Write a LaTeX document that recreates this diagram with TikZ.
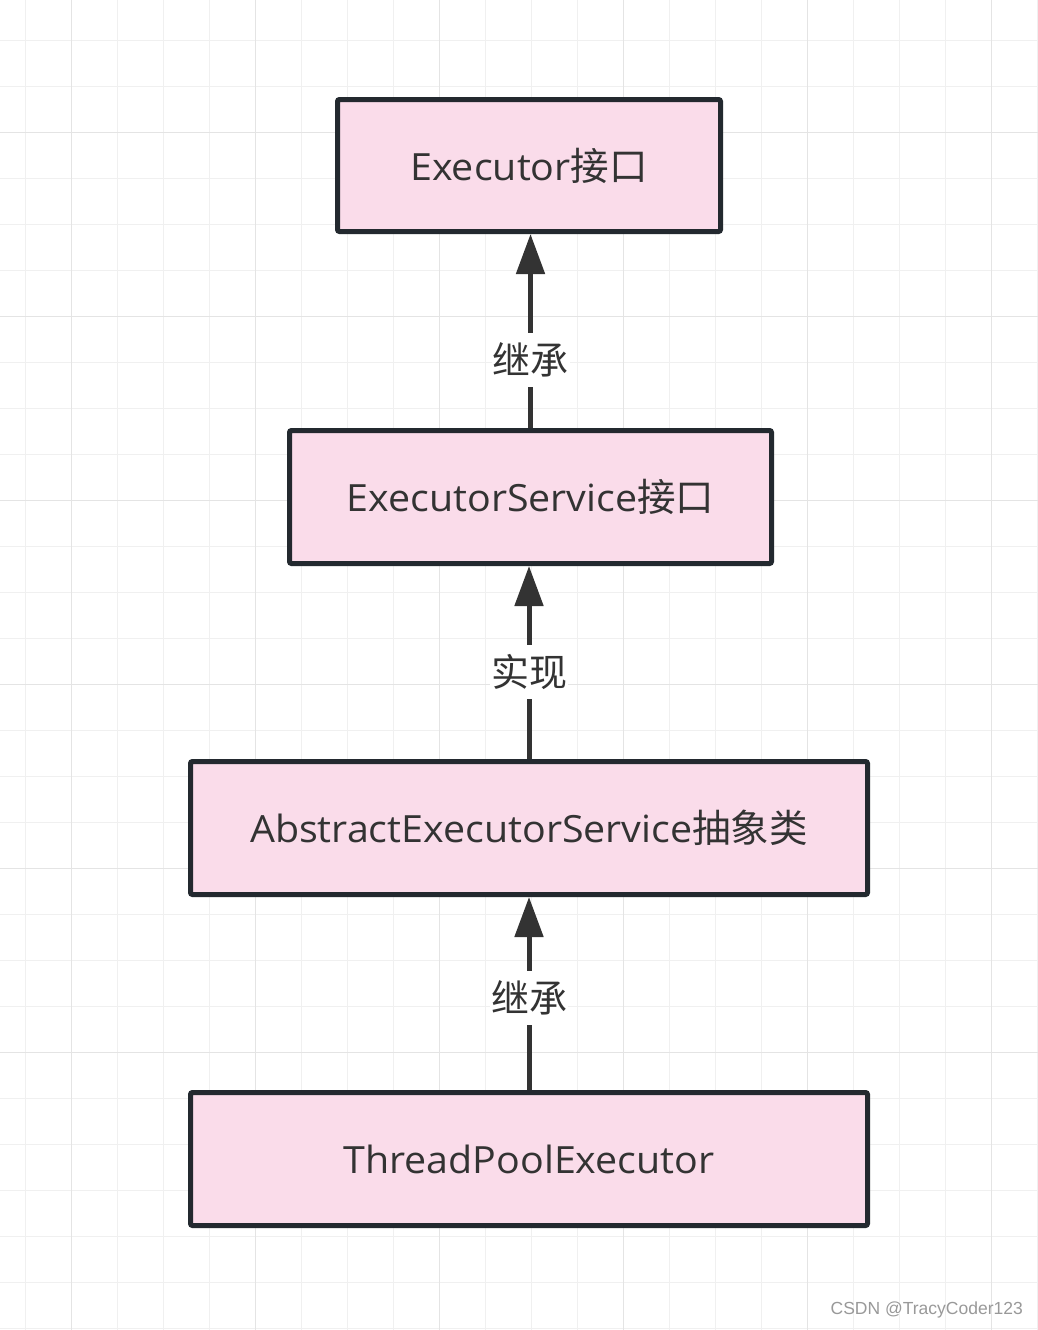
\documentclass[tikz,border=0pt]{standalone}
\usepackage{fontspec}
\setmainfont{Open Sans}
\newfontfamily\cjk{Noto Sans CJK SC}
\newfontfamily\lat[FakeStretch=1.05]{Open Sans}
\newfontfamily\wm{Liberation Sans}
\usetikzlibrary{arrows.meta}
\definecolor{boxfill}{HTML}{FADCEA}
\definecolor{boxdraw}{HTML}{23292F}
\definecolor{txt}{HTML}{333333}
\definecolor{gridminor}{HTML}{F0F0F0}
\definecolor{gridmajor}{HTML}{E4E4E4}
\newcommand{\cjkbig}[1]{{\cjk\fontsize{38.5}{44}\selectfont #1}}
\tikzset{
  box/.style={draw=boxdraw, fill=boxfill, line width=5pt, rounded corners=2pt,
    inner sep=0pt, text=txt, font=\fontsize{37.5}{44}\selectfont},
  arr/.style={draw=txt, line width=5pt, -{Triangle[length=40pt,width=28pt]}},
  lbl/.style={fill=white, inner xsep=1pt, inner ysep=0pt, minimum height=54pt,
    text=txt, font=\cjk\fontsize{38}{42}\selectfont},
}
\begin{document}
\begin{tikzpicture}[x=1pt,y=-1pt]
\useasboundingbox (0,0) rectangle (1038,1330);
\fill[white] (0,0) rectangle (1038,1330);
% grid
\foreach \i in {0,...,22} {
  \draw[gridminor, line width=1.5pt] ({25.3+46*\i},0) -- ({25.3+46*\i},1330);
}
\foreach \j in {0,...,29} {
  \draw[gridminor, line width=1.5pt] (0,{-5.3+46*\j}) -- (1038,{-5.3+46*\j});
}
\foreach \i in {0,...,5} {
  \draw[gridmajor, line width=1.5pt] ({71.3+184*\i},0) -- ({71.3+184*\i},1330);
}
\foreach \j in {0,...,6} {
  \draw[gridmajor, line width=1.5pt] (0,{-51.3+184*\j}) -- (1038,{-51.3+184*\j});
}
% boxes
\node[box, minimum width=383pt, minimum height=132pt] (a) at (529,165.5)
  {{\lat Executor}\cjkbig{接口}};
\node[box, minimum width=482pt, minimum height=133pt] (b) at (530.5,497)
  {{\lat ExecutorService}\cjkbig{接口}};
\node[box, minimum width=677pt, minimum height=133pt] (c) at (529,828)
  {{\lat AbstractExecutorService}\cjkbig{抽象类}};
\node[box, minimum width=677pt, minimum height=133pt] (d) at (529,1159)
  {{\lat ThreadPoolExecutor}};
% connectors
\draw[arr] (b.north) -- node[lbl, pos=0.35] (l1) {继承} (b.north |- a.south);
\draw[arr] (c.north) -- node[lbl, pos=0.45] (l2) {实现} (c.north |- b.south);
\draw[arr] (d.north) -- node[lbl, pos=0.477] (l3) {继承} (d.north |- c.south);
% watermark
\node[anchor=east, inner sep=0pt, text=black!40, font=\wm\fontsize{17.5}{20}\selectfont] (wm) at (1023,1310) {CSDN @TracyCoder123};
\end{tikzpicture}
\end{document}
